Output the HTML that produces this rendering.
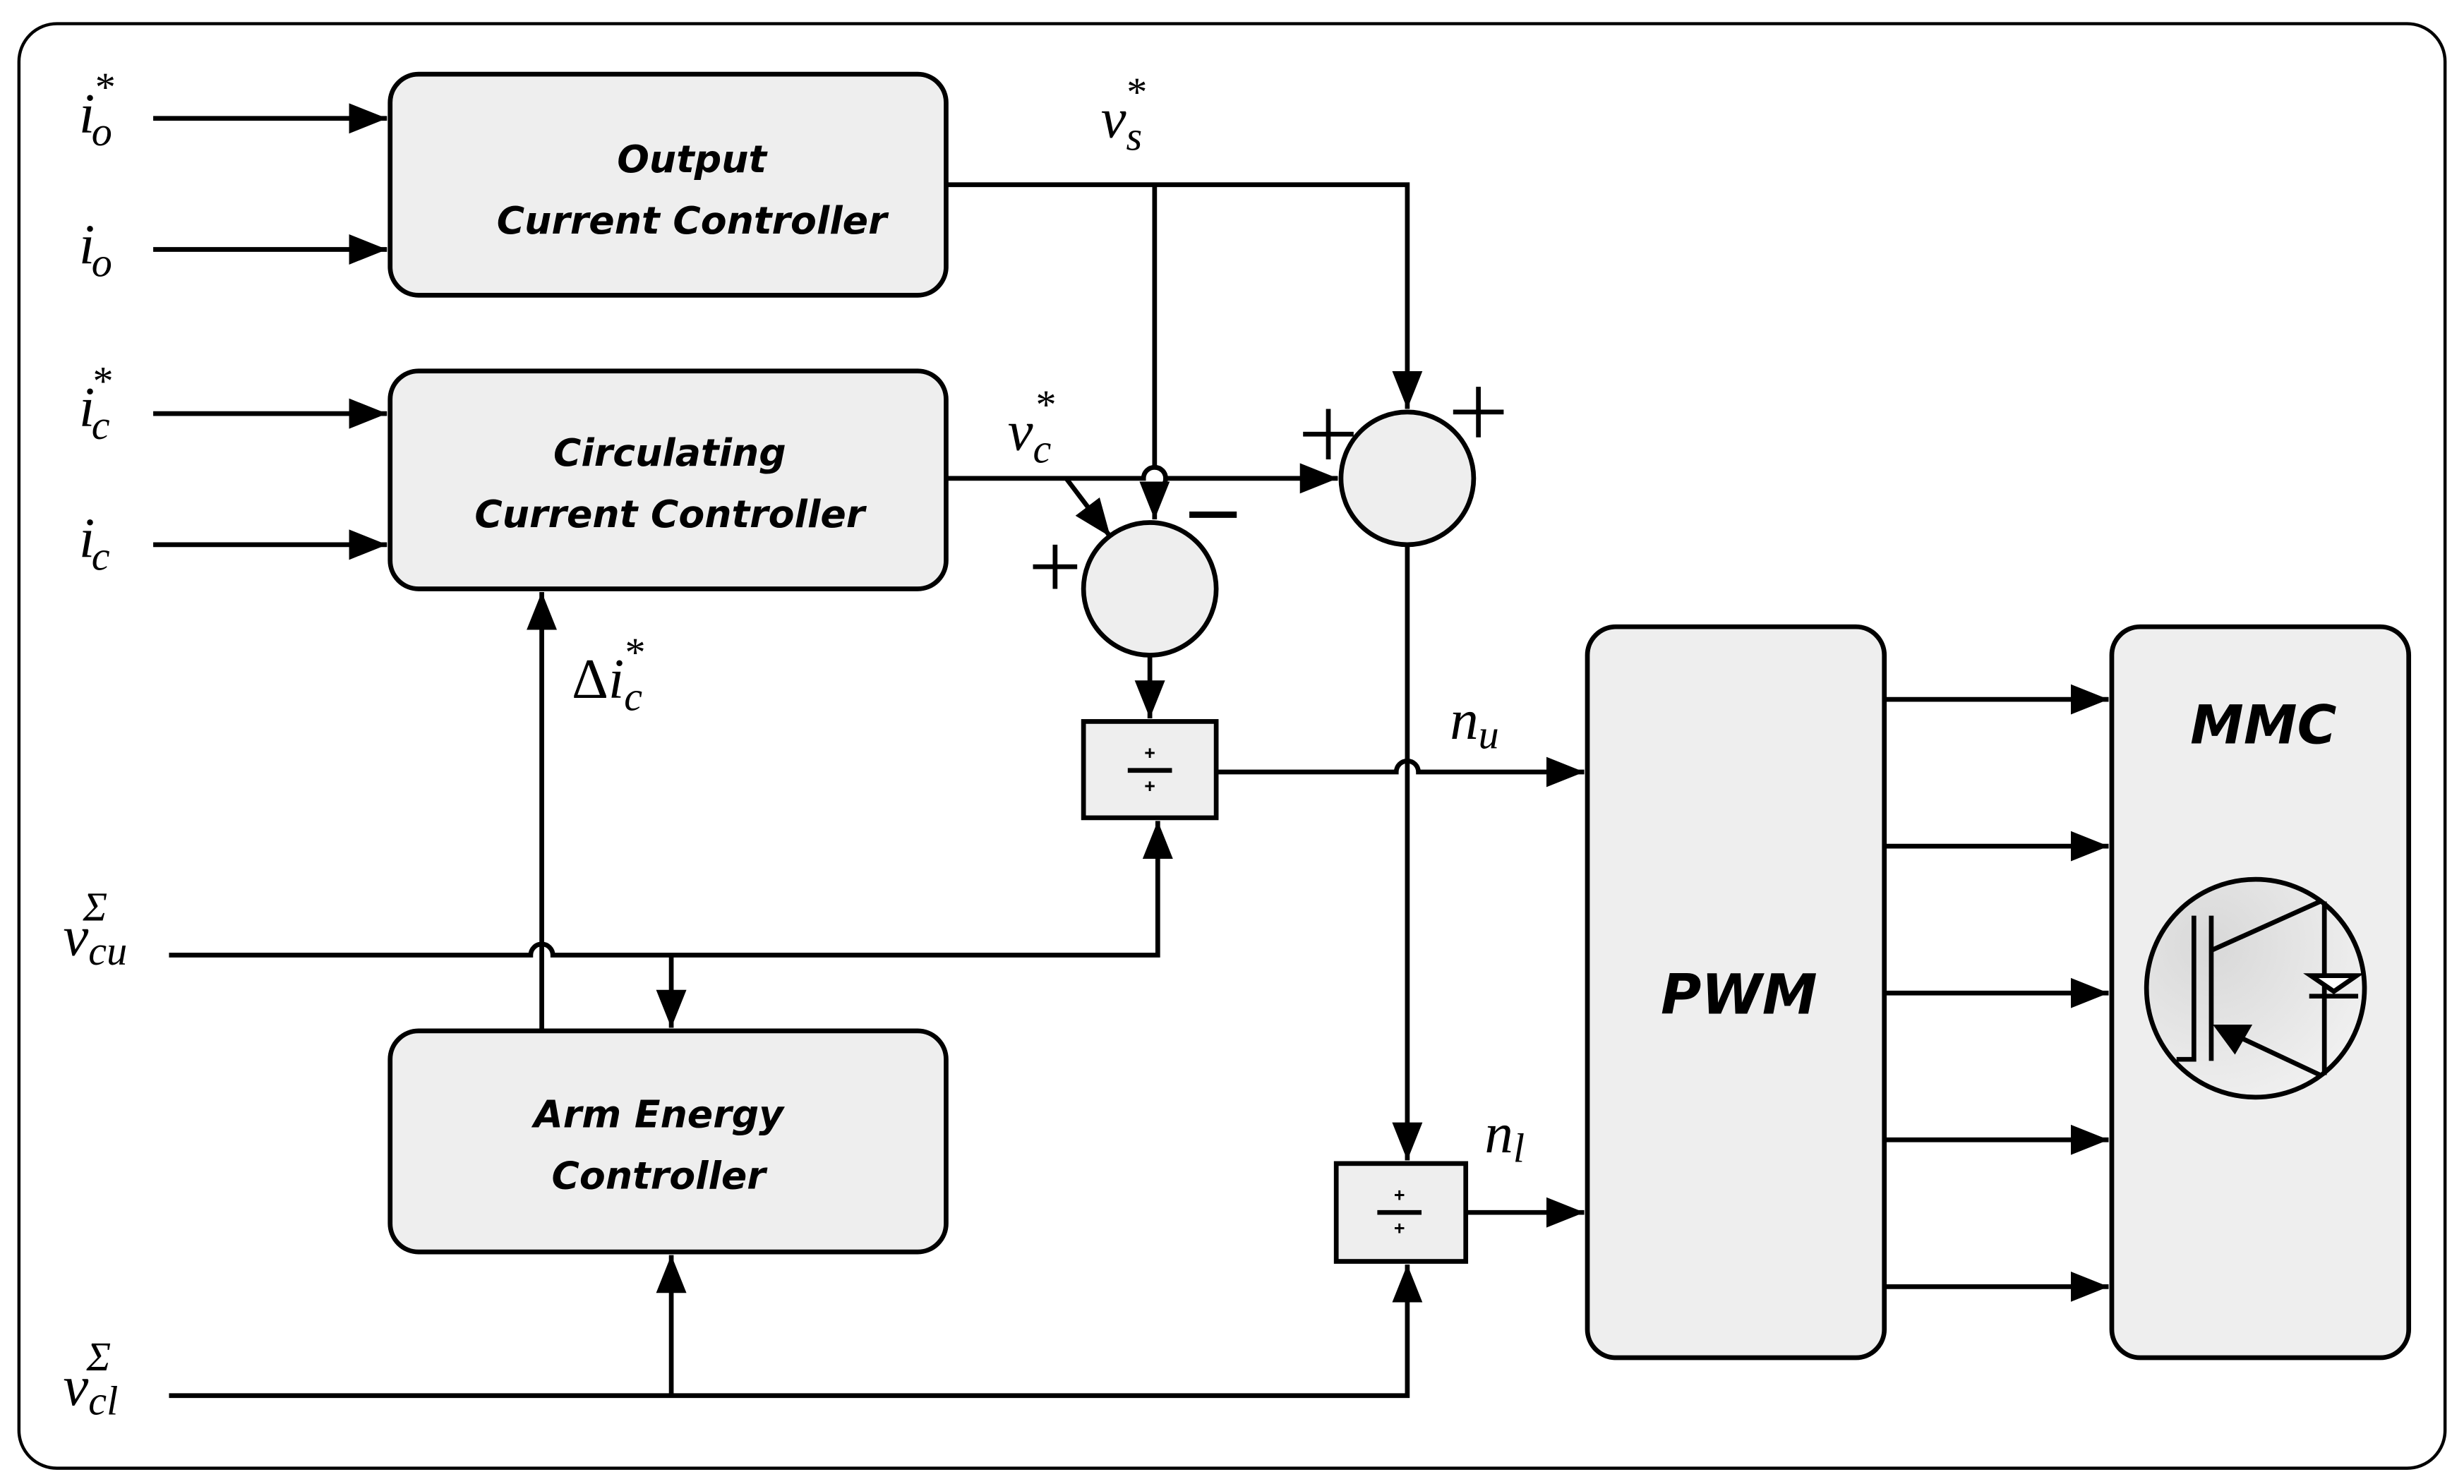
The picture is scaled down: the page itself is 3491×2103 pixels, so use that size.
<!DOCTYPE html>
<html><head><meta charset="utf-8"><style>
html,body{margin:0;padding:0;background:#fff}
svg{display:block}
.m{font-family:"Liberation Serif",serif;font-style:italic;font-size:36px}
.s{font-size:26px}
.b{font-family:"DejaVu Sans","Liberation Sans",sans-serif;font-style:italic;font-weight:bold;font-size:24px;text-anchor:middle}
</style></head><body>
<svg width="3491" height="2103" viewBox="0 0 1560 940" preserveAspectRatio="none" xmlns="http://www.w3.org/2000/svg">
<defs>
<marker id="A" viewBox="0 0 10 10" refX="10" refY="5" markerWidth="24" markerHeight="24" markerUnits="userSpaceOnUse" orient="auto"><path d="M0,1L10,5L0,9z"/></marker>
<radialGradient id="g" cx="0.3" cy="0.3" r="0.9"><stop offset="0" stop-color="#d8d8d8"/><stop offset="1" stop-color="#f4f4f4"/></radialGradient>
</defs>
<rect x="12" y="15" width="1536" height="915" rx="24" fill="none" stroke="#000" stroke-width="2"/>
<g fill="#eee" stroke="#000" stroke-width="3">
<rect x="247" y="47" width="352" height="140" rx="18"/>
<rect x="247" y="235" width="352" height="138" rx="18"/>
<rect x="247" y="653" width="352" height="140" rx="18"/>
<rect x="1005" y="397" width="188" height="463" rx="18"/>
<rect x="1337" y="397" width="188" height="463" rx="18"/>
<circle cx="728" cy="373" r="42"/>
<circle cx="891" cy="303" r="42"/>
<rect x="686" y="457" width="84" height="61"/>
<rect x="846" y="737" width="82" height="62"/>
</g>
<g fill="none" stroke="#000" stroke-width="3" marker-end="url(#A)">
<path d="M97,75H245"/><path d="M97,158H245"/><path d="M97,262H245"/><path d="M97,345H245"/>
<path d="M599,117H891V259"/>
<path d="M731,117V296a7,7 0 0 1 0,14V329"/>
<path d="M599,303H724a7,7 0 0 1 14,0H847"/>
<path d="M675,303L703,340"/>
<path d="M728,415V455"/>
<path d="M770,489H884a7,7 0 0 1 14,0H1003"/>
<path d="M891,345V735"/>
<path d="M928,768H1003"/>
<path d="M107,605H336a7,7 0 0 1 14,0H733V520"/>
<path d="M425,605V651"/>
<path d="M343,653V375"/>
<path d="M107,884H891V801"/>
<path d="M425,884V795"/>
<path d="M1193,443H1335"/><path d="M1193,536H1335"/><path d="M1193,629H1335"/><path d="M1193,722H1335"/><path d="M1193,815H1335"/>
</g>
<g stroke="#000" stroke-width="3">
<path d="M714,488H742"/><path d="M872,768H900"/>
<path d="M825,275H857M841,259V291"/><path d="M920,261H952M936,245V277"/>
<path d="M654,359H682M668,345V373"/><path d="M753,326H783" stroke-width="4"/>
</g>
<g font-family="Liberation Sans" font-size="12" font-weight="bold" text-anchor="middle"><text x="728" y="481">+</text><text x="728" y="502">+</text><text x="886" y="761">+</text><text x="886" y="782">+</text></g>
<text class="b" x="438" y="109">Output</text><text class="b" x="438" y="148">Current Controller</text>
<text class="b" x="424" y="295">Circulating</text><text class="b" x="424" y="334">Current Controller</text>
<text class="b" x="417" y="714">Arm Energy</text><text class="b" x="417" y="753">Controller</text>
<text class="b" x="1101" y="642" style="font-size:35px">PWM</text>
<text class="b" x="1433" y="471" style="font-size:34px">MMC</text>
<circle cx="1428" cy="626" r="69" fill="url(#g)" stroke="#000" stroke-width="3"/>
<g stroke="#000" stroke-width="3" fill="none">
<path d="M1378,671H1389V580"/><path d="M1400,580V672"/>
<path d="M1400,602L1469,571"/><path d="M1471.6,571V681"/>
<path d="M1469,681L1420,658"/>
<path d="M1462,631H1493"/>
</g>
<path d="M1401,649L1426,649L1415,668z"/>
<path d="M1463,618H1492L1477.6,628z" fill="#fff" stroke="#000" stroke-width="3"/>
<g class="m">
<text x="50" y="84">i<tspan class="s" dx="-2" dy="8">o</tspan><tspan class="s" dx="-12" dy="-28">*</tspan></text>
<text x="50" y="167">i<tspan class="s" dx="-2" dy="8">o</tspan></text>
<text x="50" y="270">i<tspan class="s" dx="-2" dy="8">c</tspan><tspan class="s" dx="-12" dy="-28">*</tspan></text>
<text x="50" y="353">i<tspan class="s" dx="-2" dy="8">c</tspan></text>
<text x="697" y="87">v<tspan class="s" dy="8">s</tspan><tspan class="s" dx="-11" dy="-28">*</tspan></text>
<text x="638" y="285">v<tspan class="s" dy="8">c</tspan><tspan class="s" dx="-11" dy="-28">*</tspan></text>
<text x="362" y="442" font-style="normal">Δ<tspan font-style="italic">i</tspan><tspan class="s" font-style="italic" dy="8">c</tspan><tspan class="s" dx="-11" dy="-28">*</tspan></text>
<text x="918" y="468">n<tspan class="s" dy="6">u</tspan></text>
<text x="940" y="730">n<tspan class="s" dy="6">l</tspan></text>
<text x="40" y="605">v<tspan class="s" dy="6">cu</tspan><tspan class="s" dx="-28" dy="-28">Σ</tspan></text>
<text x="40" y="890">v<tspan class="s" dy="6">cl</tspan><tspan class="s" dx="-20" dy="-28">Σ</tspan></text>
</g>
</svg>
</body></html>
